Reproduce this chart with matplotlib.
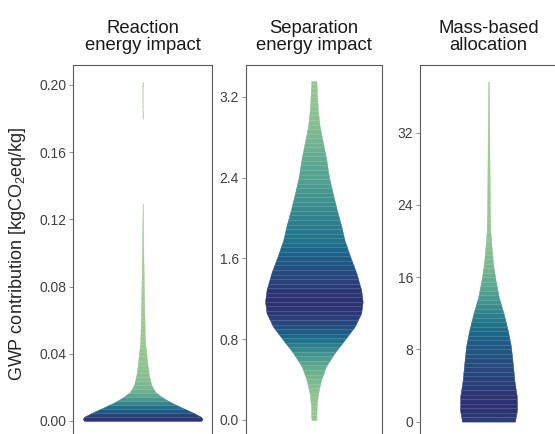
import numpy as np
import matplotlib
matplotlib.use("Agg")
import matplotlib.pyplot as plt
import seaborn as sns

plt.rcParams['font.family'] = ['Liberation Sans', 'DejaVu Sans']
plt.rcParams['mathtext.default'] = 'regular'

titles = ["Reaction\nenergy impact", "Separation\nenergy impact", "Mass-based\nallocation"]
ylabel = "GWP contribution [kgCO$_2$eq/kg]"

# violin outlines: GWP level and half width (axis units)
react_y = [0.0, 0.0012, 0.0026, 0.0055, 0.0085, 0.0115, 0.0145, 0.0174, 0.0214,
           0.0274, 0.0333, 0.0393, 0.045, 0.050, 0.060, 0.070, 0.080, 0.095,
           0.110, 0.122, 0.128, 0.180, 0.184, 0.200, 0.202]
react_w = [0.840, 0.866, 0.840, 0.700, 0.540, 0.390, 0.270, 0.180, 0.125,
           0.090, 0.070, 0.055, 0.040, 0.033, 0.027, 0.022, 0.017, 0.012,
           0.007, 0.003, 0.0, 0.0, 0.002, 0.002, 0.0]

sep_y = [0.0, 0.132, 0.265, 0.396, 0.528, 0.661, 0.793, 0.925, 1.057, 1.172,
         1.288, 1.454, 1.618, 1.784, 1.916, 2.081, 2.247, 2.411, 2.577, 2.742,
         2.907, 3.072, 3.353]
sep_w = [0.037, 0.041, 0.062, 0.106, 0.176, 0.301, 0.452, 0.599, 0.694, 0.716,
         0.694, 0.624, 0.533, 0.448, 0.404, 0.337, 0.276, 0.220, 0.183, 0.135,
         0.085, 0.059, 0.037]

mass_y = [0.0, 0.18, 1.3, 2.8, 4.6, 6.5, 8.3, 10.1, 12.0, 13.8, 15.7, 17.5,
          19.4, 21.2, 23.8, 27.0, 31.2, 34.5, 37.6]
mass_w = [0.390, 0.390, 0.416, 0.413, 0.377, 0.353, 0.328, 0.282, 0.219, 0.150,
          0.102, 0.066, 0.044, 0.026, 0.020, 0.016, 0.013, 0.009, 0.005]

yticks = [[0.00, 0.04, 0.08, 0.12, 0.16, 0.20],
          [0.0, 0.8, 1.6, 2.4, 3.2],
          [0, 8, 16, 24, 32]]
yfmt = ["{:.2f}", "{:.1f}", "{:.0f}"]
ylims = [(-0.00774, 0.2119), (-0.1386, 3.514), (-1.373, 39.5)]
steps = [0.0024, 0.045, 0.5]

cmap = sns.color_palette("crest", as_cmap=True)


def draw_violin(ax, ys, ws, step):
    ys = np.asarray(ys, float)
    ws = np.asarray(ws, float)
    wmax = ws.max()
    edges = np.append(np.arange(ys[0], ys[-1], step), ys[-1])
    for y0, y1 in zip(edges[:-1], edges[1:]):
        yy = np.linspace(y0, y1, 6)
        ww = np.interp(yy, ys, ws)
        if ww.max() <= 0:
            continue
        c = np.array(cmap(ww.mean() / wmax))
        ax.fill_betweenx(yy, -ww, ww, color=c, lw=0.3, ec=c)
        light = c[:3] * 0.75 + 0.25
        ax.plot([-ww[-1], ww[-1]], [y1, y1], color=light, lw=0.5, alpha=0.7)


fig = plt.figure(figsize=(5.55, 4.34), dpi=100)
W, H = 555.0, 434.0
lefts = [73.3, 245.7, 420.0]
widths = [138.7, 136.3, 137.0]
top = 65.0
data = [(react_y, react_w), (sep_y, sep_w), (mass_y, mass_w)]

for i in range(3):
    ax = fig.add_axes([lefts[i] / W, 0.0, widths[i] / W, (H - top) / H])
    draw_violin(ax, data[i][0], data[i][1], steps[i])
    ax.set_xlim(-1, 1)
    ax.set_ylim(*ylims[i])
    ax.set_xticks([])
    ax.set_yticks(yticks[i])
    ax.set_yticklabels([yfmt[i].format(t) for t in yticks[i]])
    ax.tick_params(axis='y', length=3, width=0.6, color='#808080',
                   labelsize=10, labelcolor='#404040', pad=2)
    for s in ['left', 'right', 'top']:
        ax.spines[s].set_color('#595959')
        ax.spines[s].set_linewidth(0.8)
    ax.spines['bottom'].set_visible(False)
    fig.text((lefts[i] + widths[i] / 2) / W, 1 - 50 / H, titles[i],
             ha='center', va='baseline', fontsize=13.3, color='#1a1a1a',
             linespacing=0.97)

fig.text(18 / W, 1 - 254 / H, ylabel, rotation=90, ha='center', va='center',
         fontsize=13, color='#262626')

fig.savefig("out.png", dpi=100)
